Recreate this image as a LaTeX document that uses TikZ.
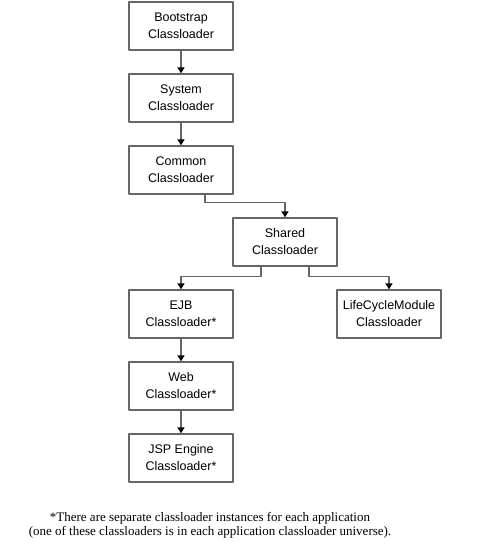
\documentclass[tikz,border=0pt]{standalone}
\usepackage{fontspec}
\setmainfont{Liberation Serif}
\setsansfont{Liberation Sans}
\usetikzlibrary{arrows.meta}
\tikzset{
  loader/.style={draw=black!60, line width=1.3pt, minimum width=104pt, minimum height=48pt,
    align=center, inner sep=1pt, font=\sffamily\fontsize{12.5}{17}\selectfont},
  link/.style={draw=black!60, line width=1.3pt, -{Triangle[width=7pt,length=6pt,color=black]}}
}
\begin{document}
\begin{tikzpicture}[x=1pt, y=-1pt, line join=round]
  \useasboundingbox (0,0) rectangle (488,553);
  % chain of loaders
  \node[loader] (boot) at (181,26) {Bootstrap\\Classloader};
  \node[loader] (sys) at (181,98) {System\\Classloader};
  \node[loader] (common) at (181,170) {Common\\Classloader};
  \node[loader] (shared) at (285,242) {Shared\\Classloader};
  \node[loader] (ejb) at (181,314) {EJB\\Classloader*};
  \node[loader] (life) at (389,314) {LifeCycleModule\\Classloader};
  \node[loader] (web) at (181,386) {Web\\Classloader*};
  \node[loader] (jsp) at (181,458) {JSP Engine\\Classloader*};
  \draw[link] (boot) -- (sys);
  \draw[link] (sys) -- (common);
  \draw[link] ([xshift=24pt]common.south) -- ++(0,8) -| (shared.north);
  \draw[link] ([xshift=-24pt]shared.south) -- ++(0,10) -| (ejb.north);
  \draw[link] ([xshift=24pt]shared.south) -- ++(0,10) -| (life.north);
  \draw[link] (ejb) -- (web);
  \draw[link] (web) -- (jsp);
  % footnote
  \node[align=center, font=\fontsize{13}{14}\selectfont] (note) at (210,525)
    {*There are separate classloader instances for each application\\
     (one of these classloaders is in each application classloader universe).};
\end{tikzpicture}
\end{document}
